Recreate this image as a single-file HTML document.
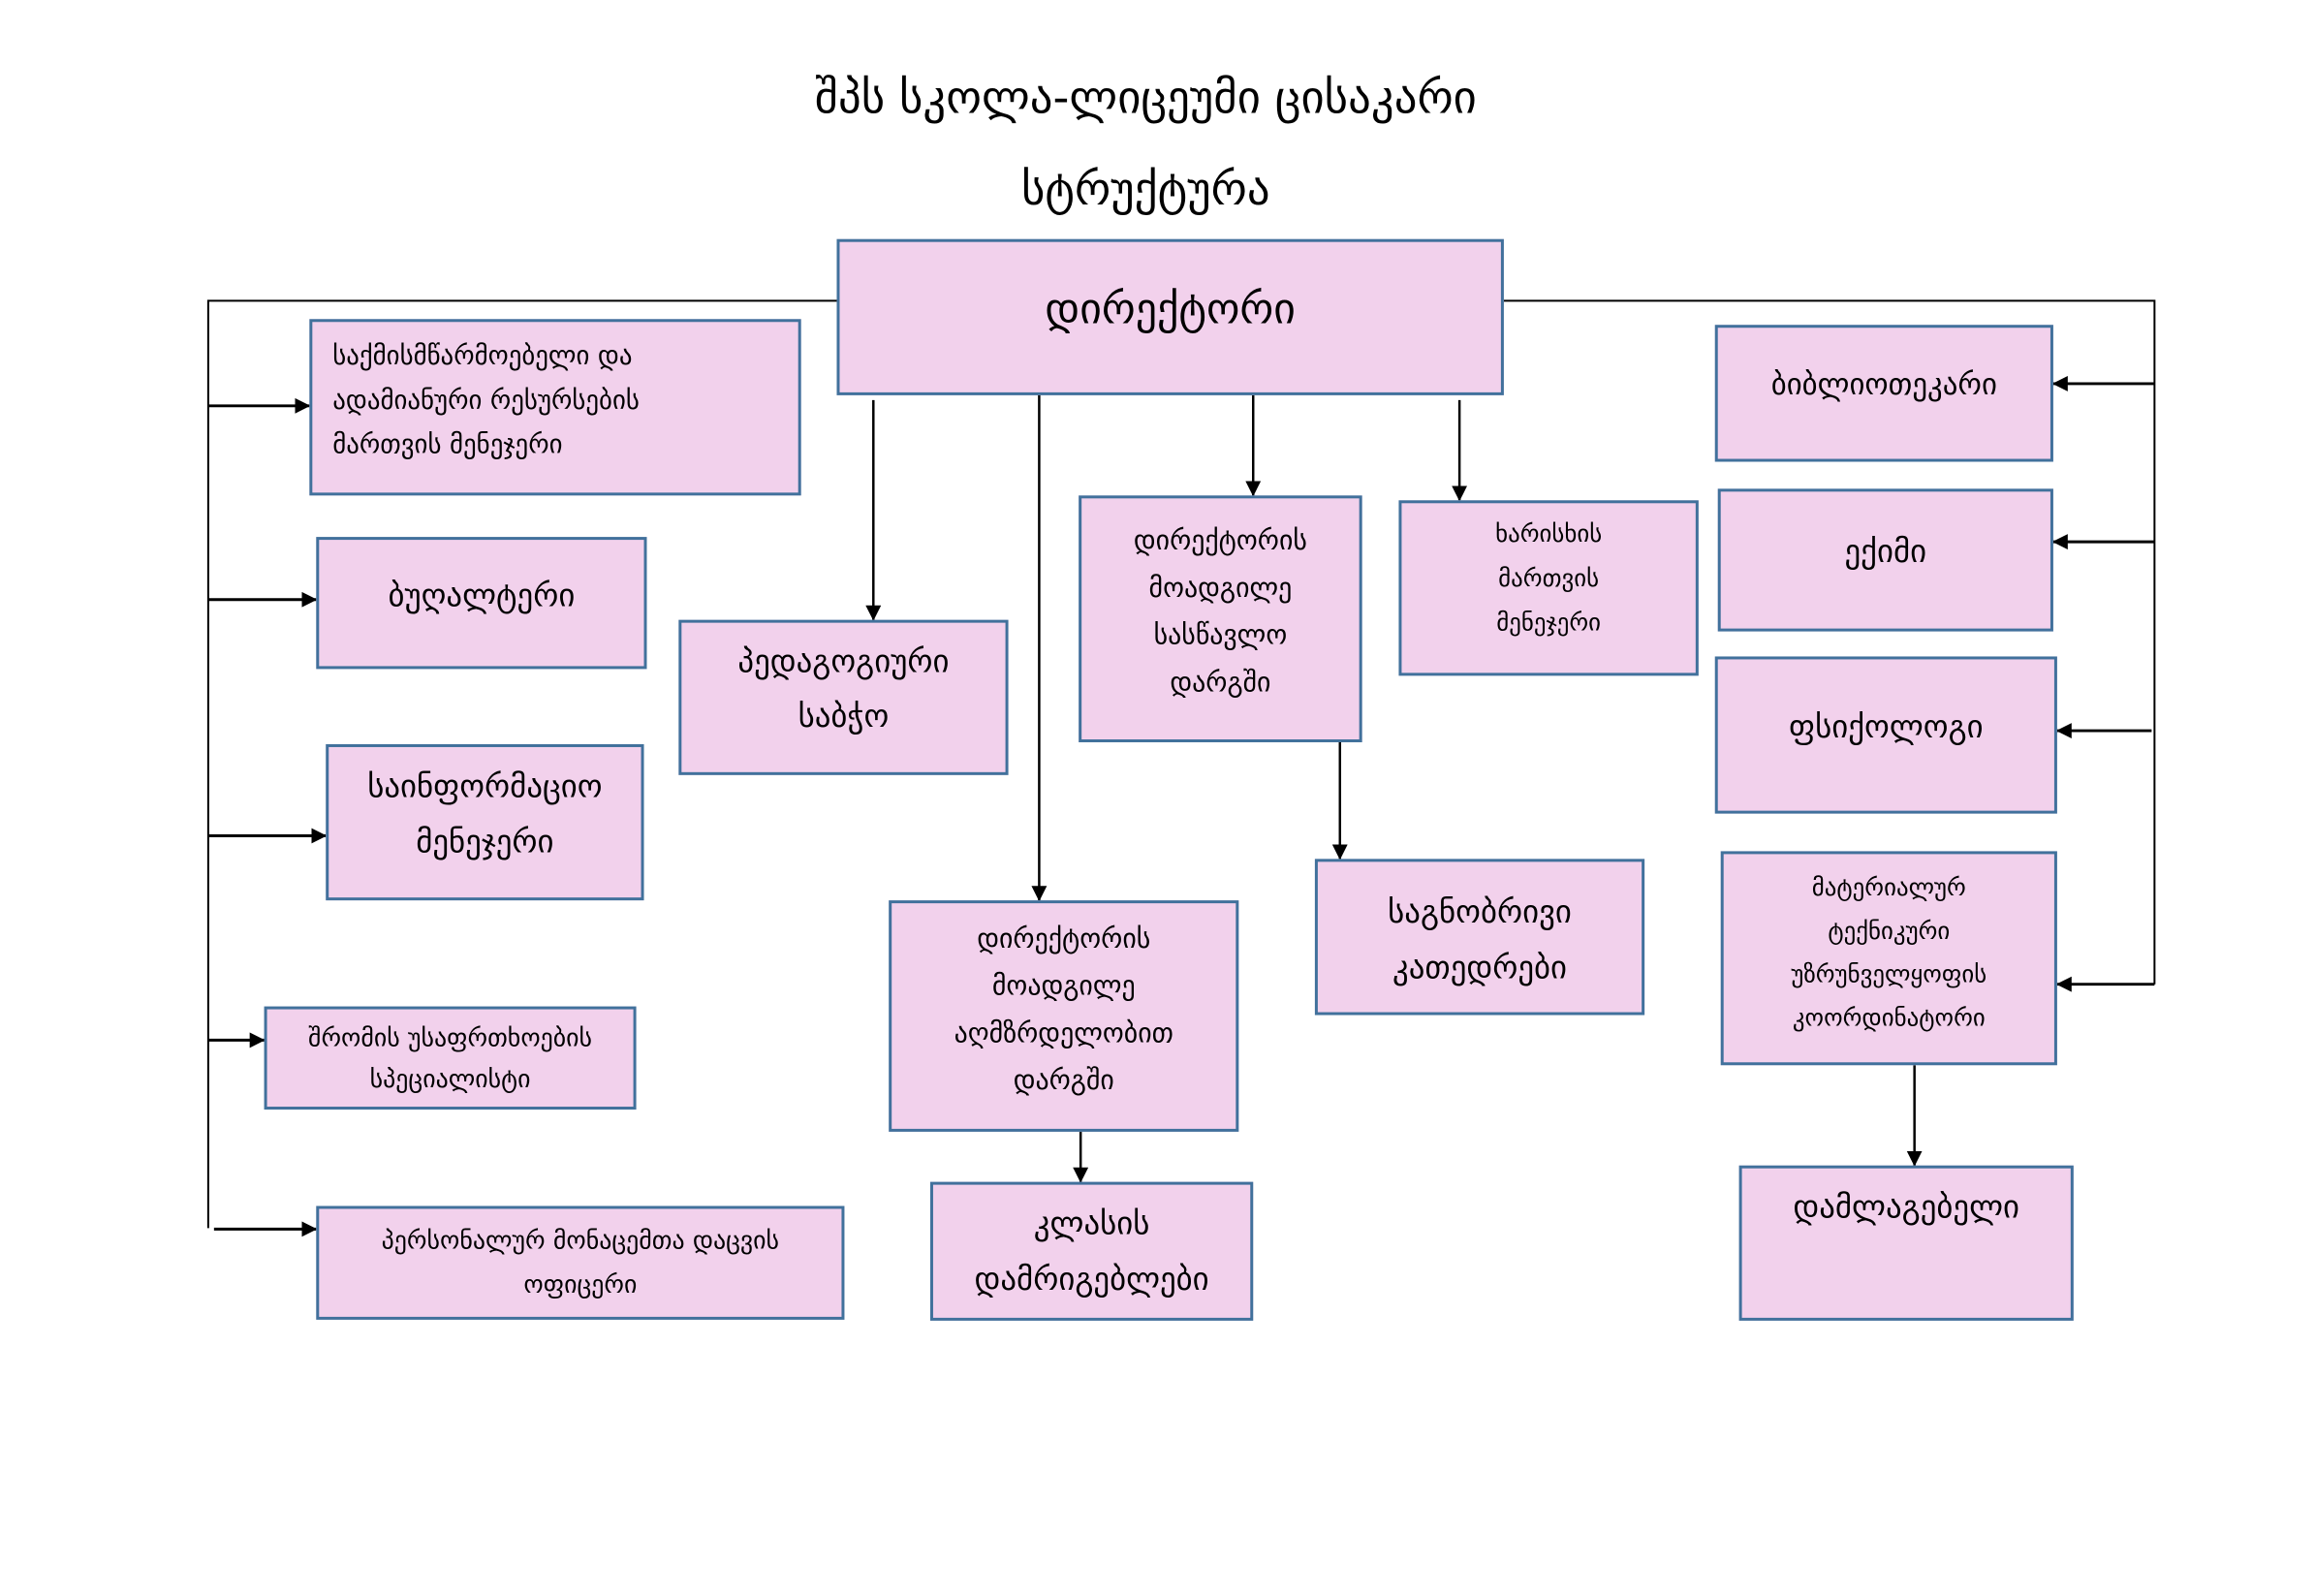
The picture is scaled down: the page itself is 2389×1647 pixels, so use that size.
<!DOCTYPE html>
<html><head><meta charset="utf-8"><style>
html,body{margin:0;padding:0;background:#fff;}
body{width:2389px;height:1647px;position:relative;overflow:hidden;font-family:"DejaVu Sans","Liberation Sans",sans-serif;color:#000;}
#w{position:absolute;left:0;top:0;width:2389px;height:1647px;transform:scale(0.9948);transform-origin:0 0;}
.b{position:absolute;box-sizing:border-box;background:#F2D1EC;border:3px solid #41719C;text-align:center;}
.t{position:absolute;left:0;width:100%;text-align:center;font-size:47px;}
svg{position:absolute;left:0;top:0;}
</style></head><body><div id="w">
<div class="t" style="top:74px;left:-6px">შპს სკოლა-ლიცეუმი ცისაკარი</div>
<div class="t" style="top:169px;left:-6px">სტრუქტურა</div>
<svg width="2389" height="1647" viewBox="0 0 2389 1647">
<defs><marker id="m" markerWidth="16" markerHeight="16" refX="15" refY="8" orient="auto" markerUnits="userSpaceOnUse" viewBox="0 0 16 16"><path d="M0,0 L16,8 L0,16 z" fill="#000"/></marker></defs>
<g stroke="#000" stroke-width="2" fill="none">
<polyline points="868,312 216,312 216,1274"/>
<line x1="216" y1="421" x2="321" y2="421" stroke-width="3" marker-end="url(#m)"/>
<line x1="216" y1="622" x2="328" y2="622" stroke-width="3" marker-end="url(#m)"/>
<line x1="216" y1="867" x2="338" y2="867" stroke-width="3" marker-end="url(#m)"/>
<line x1="216" y1="1079" x2="274" y2="1079" stroke-width="3" marker-end="url(#m)"/>
<line x1="222" y1="1275" x2="328" y2="1275" stroke-width="3" marker-end="url(#m)"/>
<polyline points="1560,312 2235,312 2235,1021"/>
<line x1="2235" y1="398" x2="2130" y2="398" stroke-width="3" marker-end="url(#m)"/>
<line x1="2235" y1="562" x2="2130" y2="562" stroke-width="3" marker-end="url(#m)"/>
<line x1="2232" y1="758" x2="2134" y2="758" stroke-width="3" marker-end="url(#m)"/>
<line x1="2235" y1="1021" x2="2134" y2="1021" stroke-width="3" marker-end="url(#m)"/>
<line x1="906" y1="415" x2="906" y2="643" stroke-width="2.5" marker-end="url(#m)"/>
<line x1="1300" y1="410" x2="1300" y2="514" stroke-width="2.5" marker-end="url(#m)"/>
<line x1="1514" y1="415" x2="1514" y2="519" stroke-width="2.5" marker-end="url(#m)"/>
<line x1="1078" y1="410" x2="1078" y2="934" stroke-width="2.5" marker-end="url(#m)"/>
<line x1="1121" y1="1174" x2="1121" y2="1226" stroke-width="2.5" marker-end="url(#m)"/>
<line x1="1390" y1="770" x2="1390" y2="891" stroke-width="2.5" marker-end="url(#m)"/>
<line x1="1986" y1="1105" x2="1986" y2="1209" stroke-width="2.5" marker-end="url(#m)"/>
</g></svg>

<div class="b" style="left:868px;top:248px;width:692px;height:162px;font-size:44px;line-height:50px;padding-top:45px">დირექტორი</div>
<div class="b" style="left:321px;top:331px;width:510px;height:183px;font-size:27px;line-height:46px;padding-top:13px;padding-left:21px;text-align:left">საქმისმწარმოებელი და<br>ადამიანური რესურსების<br>მართვის მენეჯერი</div>
<div class="b" style="left:328px;top:557px;width:343px;height:137px;font-size:33px;line-height:50px;padding-top:33px">ბუღალტერი</div>
<div class="b" style="left:338px;top:772px;width:330px;height:162px;font-size:33px;line-height:57px;padding-top:12px">საინფორმაციო<br>მენეჯერი</div>
<div class="b" style="left:274px;top:1044px;width:386px;height:107px;font-size:26px;line-height:43px;padding-top:9px">შრომის უსაფრთხოების<br>სპეციალისტი</div>
<div class="b" style="left:328px;top:1251px;width:548px;height:118px;font-size:26px;line-height:46px;padding-top:10px">პერსონალურ მონაცემთა დაცვის<br>ოფიცერი</div>
<div class="b" style="left:704px;top:643px;width:342px;height:161px;font-size:33px;line-height:57px;padding-top:11px">პედაგოგიური<br>საბჭო</div>
<div class="b" style="left:1119px;top:514px;width:294px;height:256px;font-size:28px;line-height:49px;padding-top:19px">დირექტორის<br>მოადგილე<br>სასწავლო<br>დარგში</div>
<div class="b" style="left:1451px;top:519px;width:311px;height:182px;font-size:25px;line-height:46px;padding-top:9px">ხარისხის<br>მართვის<br>მენეჯერი</div>
<div class="b" style="left:922px;top:934px;width:363px;height:240px;font-size:28px;line-height:49px;padding-top:12px">დირექტორის<br>მოადგილე<br>აღმზრდელობით<br>დარგში</div>
<div class="b" style="left:965px;top:1226px;width:335px;height:144px;font-size:33px;line-height:58px;padding-top:11px">კლასის<br>დამრიგებლები</div>
<div class="b" style="left:1364px;top:891px;width:342px;height:162px;font-size:33px;line-height:58px;padding-top:23px">საგნობრივი<br>კათედრები</div>
<div class="b" style="left:1779px;top:337px;width:351px;height:142px;font-size:31px;line-height:50px;padding-top:34px">ბიბლიოთეკარი</div>
<div class="b" style="left:1782px;top:507px;width:348px;height:148px;font-size:33px;line-height:50px;padding-top:37px">ექიმი</div>
<div class="b" style="left:1779px;top:681px;width:355px;height:163px;font-size:33px;line-height:50px;padding-top:45px">ფსიქოლოგი</div>
<div class="b" style="left:1785px;top:883px;width:349px;height:222px;font-size:25px;line-height:45px;padding-top:12px">მატერიალურ<br>ტექნიკური<br>უზრუნველყოფის<br>კოორდინატორი</div>
<div class="b" style="left:1804px;top:1209px;width:347px;height:161px;font-size:33px;line-height:50px;padding-top:15px">დამლაგებელი</div>
</div></body></html>
